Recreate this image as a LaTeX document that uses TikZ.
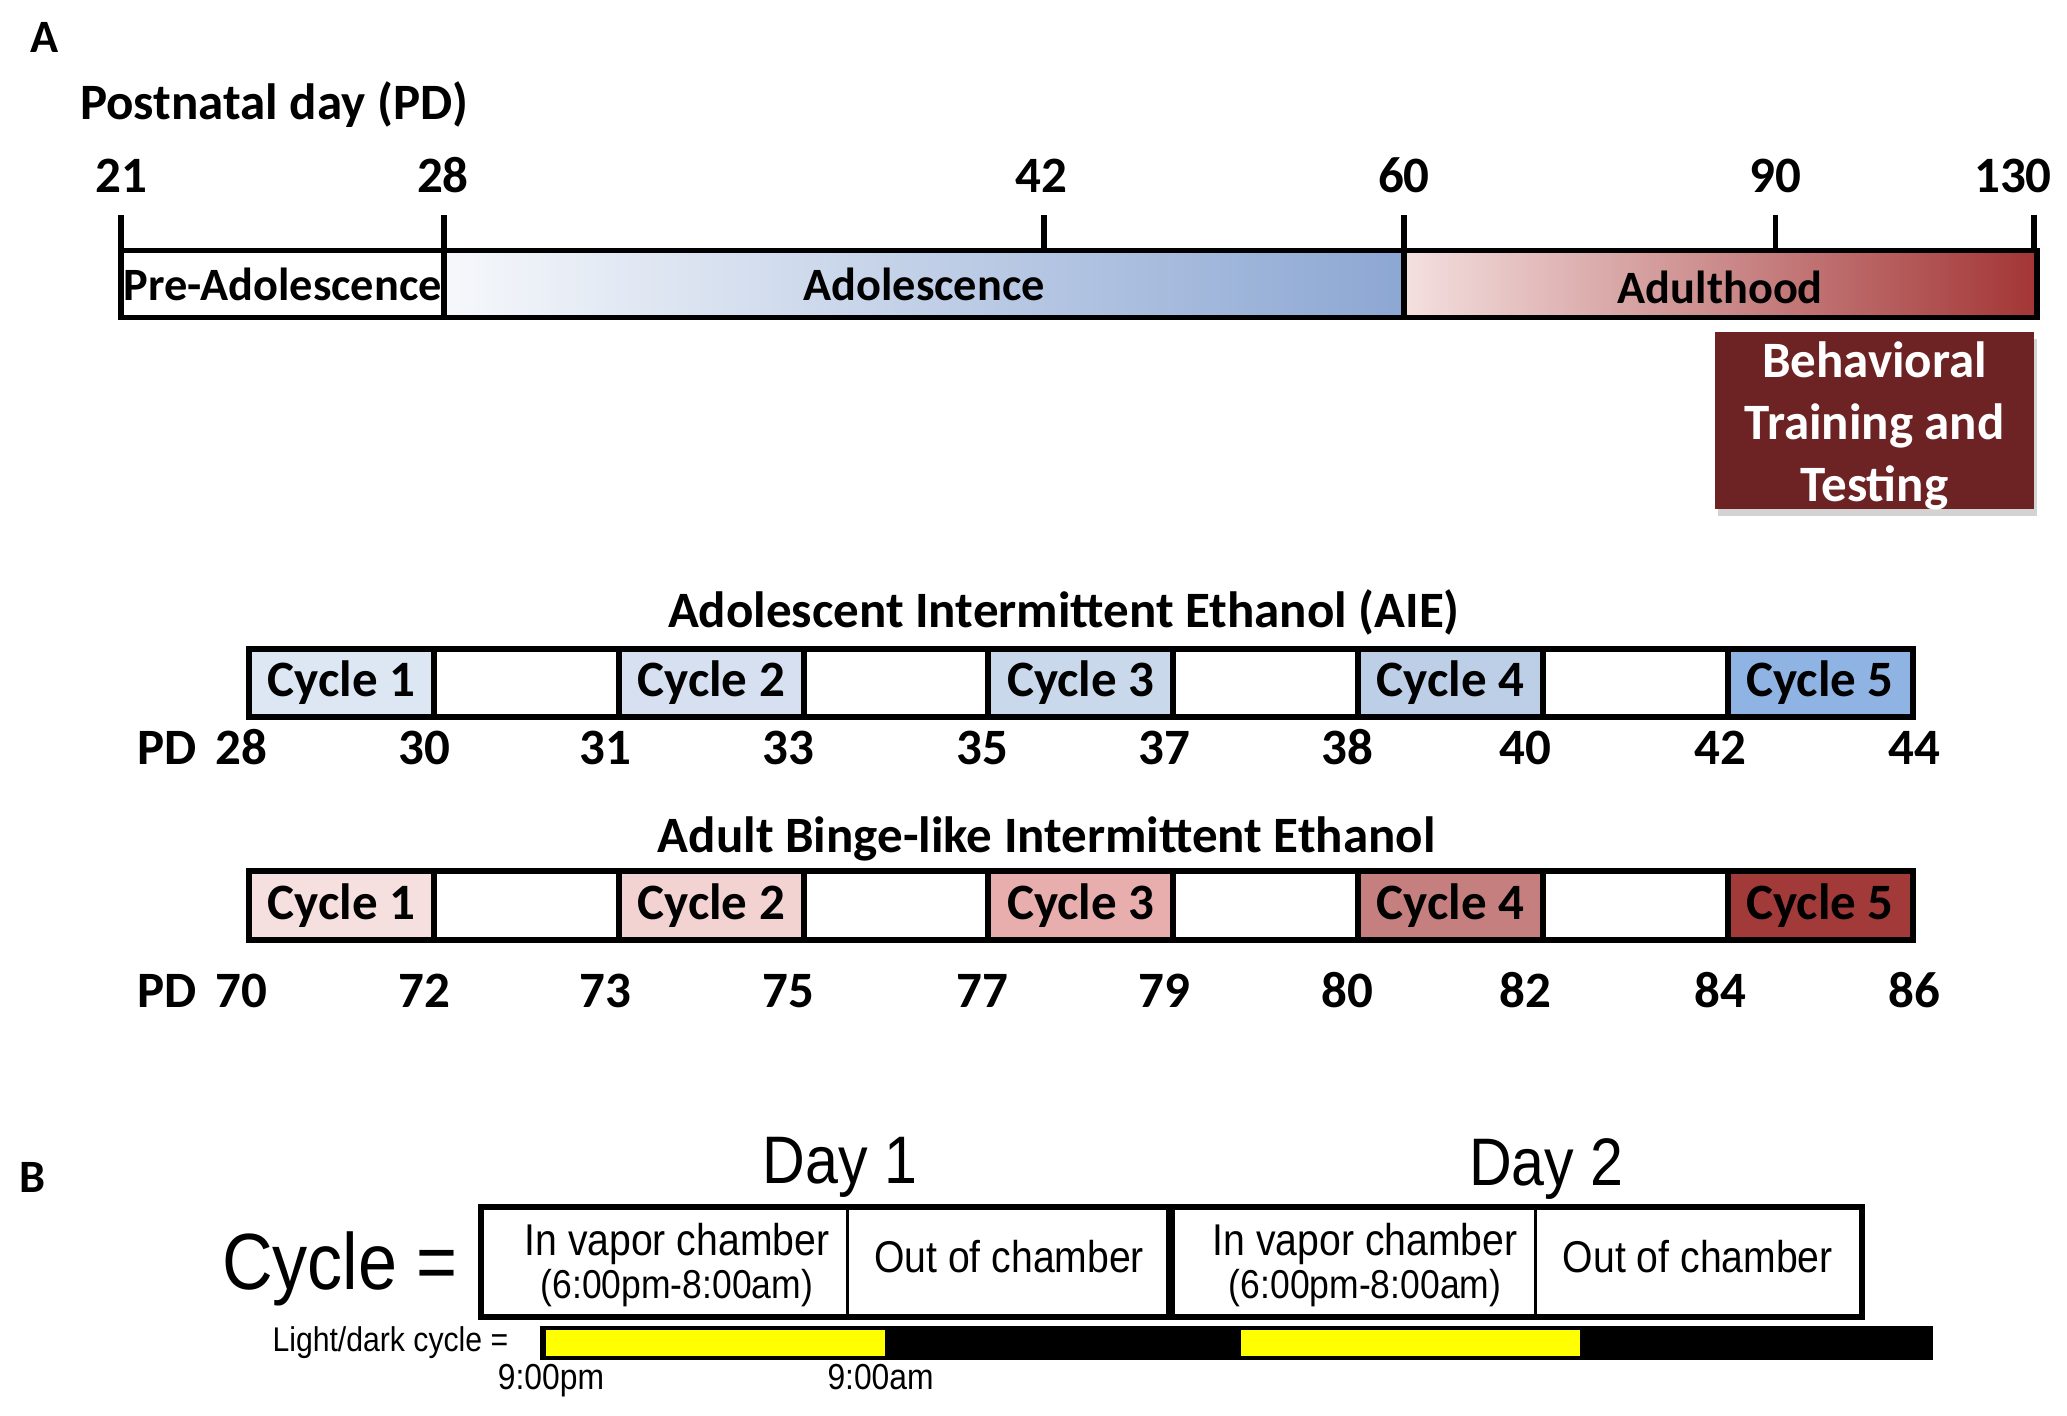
\documentclass[tikz,border=0pt]{standalone}
\usepackage{fontspec}
\setmainfont{Carlito}
\newfontfamily\arialn[FakeStretch=0.88]{Liberation Sans}
\usetikzlibrary{shadows}

\definecolor{adolblue}{HTML}{8CA7D3}
\definecolor{adolwhite}{HTML}{F6F8FB}
\definecolor{adpink}{HTML}{F4E0E0}
\definecolor{admid}{HTML}{DDB0B0}
\definecolor{adred}{HTML}{A33535}
\definecolor{behavred}{HTML}{6D2323}
\definecolor{aie1}{HTML}{DDE7F3}
\definecolor{aie2}{HTML}{D6E0F0}
\definecolor{aie3}{HTML}{CAD8EC}
\definecolor{aie4}{HTML}{BDCEE7}
\definecolor{aie5}{HTML}{8FB3E3}
\definecolor{abie1}{HTML}{F6DFDF}
\definecolor{abie2}{HTML}{F3D2D2}
\definecolor{abie3}{HTML}{E8AEAE}
\definecolor{abie4}{HTML}{C67F7F}
\definecolor{abie5}{HTML}{A33A3A}
\definecolor{lightyellow}{HTML}{FFFF00}

\begin{document}
\begin{tikzpicture}
            [x=0.01cm, y=-0.01cm,
             stage/.style={draw, line width=1.2pt, minimum height=0.51cm, inner sep=0pt,
               font=\bfseries\fontsize{10}{12}\selectfont},
             daynum/.style={anchor=base, font=\bfseries\fontsize{11}{13}\selectfont},
             panel/.style={anchor=base, font=\bfseries\fontsize{10}{12}\selectfont},
             cyc/.style={draw, line width=1.3pt, minimum width=1.402cm, minimum height=0.52cm,
               inner sep=0pt, font=\bfseries\fontsize{11}{13}\selectfont},
             phase/.style={draw, line width=0.6pt, minimum height=0.81cm, inner sep=0pt},
             phasetext/.style={align=center, inner sep=0pt, font=\arialn\fontsize{9.6}{10}\selectfont},
             light/.style={fill=lightyellow, minimum width=2.57cm, minimum height=0.2cm, inner sep=0pt},
             clock/.style={anchor=base, font=\arialn\fontsize{7.8}{9}\selectfont}]
            \useasboundingbox (0,0) rectangle (1568,1074);
            % panel A: life stages
            \node[panel] (labA) at (34,40) {A};
            \node[anchor=base west, inner sep=0pt, font=\bfseries\fontsize{11}{13}\selectfont] (pdtitle) at (60,91) {Postnatal day (PD)};
            \node[stage, minimum width=2.45cm, fill=white] (pre) at (214.5,215.5) {Pre-Adolescence};
            \node[stage, minimum width=7.28cm, left color=adolwhite, right color=adolblue] (adol) at (701,215.5) {Adolescence};
            \node[stage, minimum width=4.80cm, left color=adpink, middle color=admid, right color=adred] (adult) at (1305,215.5) {};
            \node[font=\bfseries\fontsize{10}{12}\selectfont] at ([yshift=-0.8pt]adult.center) {Adulthood};
            \foreach \x/\d/\lx in {92/21/92, 337/28/336, 792/42/790, 1065/60/1065, 1347/90/1347, 1543/130/1527} {
              \node[daynum] (top\d) at (\lx,146) {\d};
              \draw[line width=1.2pt] (\x,163) -- (\x,190);
            }
            \node[fill=behavred, minimum width=2.42cm, minimum height=1.34cm,
                  inner sep=0pt, drop shadow={shadow xshift=0.6pt, shadow yshift=-1.5pt, opacity=0.35}] (behav) at (1422,319) {};
            \node[text=white, align=center, font=\bfseries\fontsize{11}{13.4}\selectfont]
                  at ([yshift=-1.1pt]behav.center) {Behavioral\\Training and\\Testing};

            % AIE schedule
            \node[daynum] (aietitle) at (807,476) {Adolescent Intermittent Ethanol (AIE)};
            \foreach \i [evaluate=\i as \xc using 259.1+(\i-1)*280.4] in {1,...,5}
              \node[cyc, fill=aie\i] (aie\i) at (\xc,518) {Cycle \i};
            \foreach \i [evaluate=\i as \xc using 399.3+(\i-1)*280.4] in {1,...,4}
              \node[cyc] (aiegap\i) at (\xc,518) {};
            \node[daynum] (aiepd) at (127,580) {PD};
            \foreach \d/\x in {28/183,30/322,31/459,33/598,35/745,37/883,38/1022,40/1157,42/1305,44/1452}
              \node[daynum] (aied\d) at (\x,580) {\d};

            % adult schedule
            \node[daynum] (abietitle) at (794,647) {Adult Binge-like Intermittent Ethanol};
            \foreach \i [evaluate=\i as \xc using 259.1+(\i-1)*280.4] in {1,...,5}
              \node[cyc, fill=abie\i] (abie\i) at (\xc,687) {Cycle \i};
            \foreach \i [evaluate=\i as \xc using 399.3+(\i-1)*280.4] in {1,...,4}
              \node[cyc] (abiegap\i) at (\xc,687) {};
            \node[daynum] (abiepd) at (127,764) {PD};
            \foreach \d/\x in {70/183,72/322,73/459,75/598,77/745,79/883,80/1022,82/1157,84/1305,86/1452}
              \node[daynum] (abied\d) at (\x,764) {\d};

            % panel B: one cycle
            \node[panel] (labB) at (25,905) {B};
            \node[anchor=base, font=\arialn\fontsize{14.5}{16}\selectfont] (day1) at (637,898) {Day 1};
            \node[anchor=base, font=\arialn\fontsize{14.5}{16}\selectfont] (day2) at (1173,899) {Day 2};
            \node[anchor=base, font=\arialn\fontsize{17.2}{19}\selectfont] (cyceq) at (258,978) {Cycle =};
            \node[phase, minimum width=2.77cm] (vap1) at (504.5,957.5) {};
            \node[phase, minimum width=2.45cm] (out1) at (765.5,957.5) {};
            \node[phase, minimum width=2.77cm] (vap2) at (1026.5,957.5) {};
            \node[phase, minimum width=2.46cm] (out2) at (1288,957.5) {};
            \draw[line width=1.3pt] (vap1.north west) rectangle (out1.south east);
            \draw[line width=1.3pt] (vap2.north west) rectangle (out2.south east);
            \foreach \c in {1,2} {
              \node[phasetext] at ([xshift=0.09cm, yshift=-0.6pt]vap\c.center)
                {In vapor chamber\\[-0.6pt]{\fontsize{8.7}{9}\selectfont(6:00pm-8:00am)}};
              \node[phasetext] at ([yshift=1.2pt]out\c.center) {Out of chamber};
            }

            % light/dark cycle
            \node[anchor=base east, font=\arialn\fontsize{7.4}{9}\selectfont] (ldlab) at (398,1025) {Light/dark cycle =};
            \node[fill=black, minimum width=10.56cm, minimum height=0.26cm, inner sep=0pt] (dark) at (938,1019) {};
            \node[light] (light1) at (542.5,1019) {};
            \node[light] (light2) at (1070,1019) {};
            \node[clock] (pm) at (418,1054) {9:00pm};
            \node[clock] (am) at (668,1054) {9:00am};
        \end{tikzpicture}
\end{document}
